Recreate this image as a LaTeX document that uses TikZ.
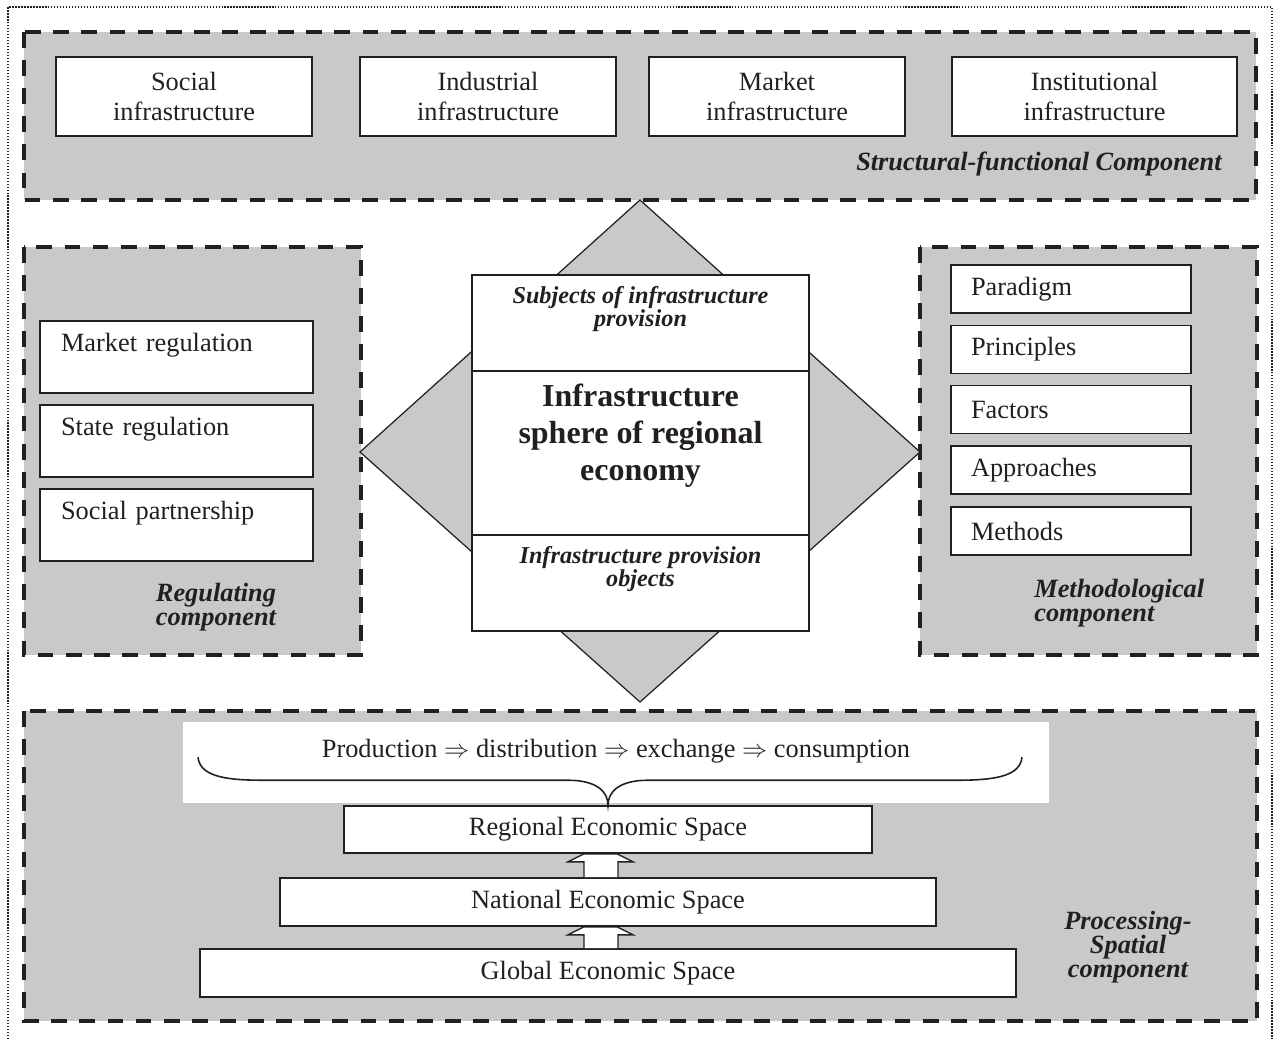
\documentclass[tikz,border=0pt]{standalone}
\usepackage{fontspec}
\setmainfont{Liberation Serif}
\usetikzlibrary{calc,positioning}
\definecolor{ink}{RGB}{35,31,32}
\definecolor{compgray}{RGB}{200,201,203}
\def\hollowup(#1)(#2){\draw[fill=white, draw=ink, line width=0.8pt] ($(#1.north)+(-24,0)$) -- ($(#2.south)+(-24,8)$) -- ($(#2.south)+(-40,8)$) -- ($(#2.south)+(-24,0)$) -- ($(#2.south)+(9,0)$) -- ($(#2.south)+(25,8)$) -- ($(#2.south)+(10,8)$) -- ($(#1.north)+(10,0)$);}

\begin{document}
\begin{tikzpicture}[x=0.02cm, y=-0.02cm,
	comp/.style={draw=ink, fill=compgray, line width=2.2pt, dash pattern=on 9pt off 7pt},
	box/.style={draw=ink, fill=white, line width=0.9pt, inner sep=0pt, text=ink, font=\fontsize{15}{17}\selectfont},
	topbox/.style={box, align=center, minimum width=5.12cm, minimum height=1.58cm},
	regbox/.style={box, align=left, text width=4.62cm, inner xsep=0.42cm, minimum height=1.44cm},
	methbox/.style={box, align=left, text width=4cm, inner xsep=0.4cm, minimum height=0.96cm},
	spacebox/.style={box, minimum height=0.96cm},
	section/.style={draw=ink, fill=white, line width=0.9pt, minimum width=6.74cm, inner sep=0pt},
	complabel/.style={text=ink, inner sep=0pt, font=\fontsize{15}{13.7}\selectfont\bfseries\itshape},
	sectlabel/.style={text=ink, inner sep=0pt, align=center, font=\fontsize{13.8}{13}\selectfont\bfseries\itshape}]
			%%%%% START %%%%%
			\useasboundingbox (0,0) rectangle (1274,1039);
			\draw[ink, line width=0.9pt, dash pattern=on 0.7pt off 1pt] (8,1039) -- (8,7) -- (1272,7) -- (1272,1039);
			
			% structural-functional component
			\draw[comp] (24,32) rectangle (1256,200);
			\node[topbox] (social) at (184,96.5) {Social\\infrastructure};
			\node[topbox] (industrial) at (488,96.5) {Industrial\\infrastructure};
			\node[topbox] (market) at (777,96.5) {Market\\infrastructure};
			\node[topbox, minimum width=5.7cm] (institutional) at (1094.5,96.5) {Institutional\\infrastructure};
			\node[complabel, anchor=east] (structlbl) at (1222,164) {Structural-functional Component};
			
			% regulating component
			\draw[comp] (24,247) rectangle (361,655);
			\node[regbox] (marketreg) at (176.5,357) {Market regulation\\\mbox{}};
			\node[regbox] (statereg) at (176.5,441) {State regulation\\\mbox{}};
			\node[regbox] (partner) at (176.5,525) {Social partnership\\\mbox{}};
			\node[complabel, align=center] (reglbl) at (216,607) {Regulating\\component};
			
			% methodological component
			\draw[comp] (920,247) rectangle (1257,655);
			\node[methbox] (paradigm) at (1071,289) {Paradigm};
			\node[methbox] (principles) at (1071,349.5) {Principles};
			\node[methbox] (factors) at (1071,409.5) {Factors};
			\node[methbox] (approaches) at (1071,470) {Approaches};
			\node[methbox] (methods) at (1071,531) {Methods};
			\node[complabel, align=left, anchor=west] (methlbl) at (1034,603) {Methodological\\component};
			
			% centre
			\draw[draw=ink, fill=compgray, line width=0.7pt] (640,200) -- (920,452) -- (640,702) -- (360,452) -- cycle;
			\node[section, minimum height=1.92cm] (subj) at (640.5,323) {};
			\node[section, minimum height=3.28cm] (core) at (640.5,453) {};
			\node[section, minimum height=1.92cm] (obj) at (640.5,583) {};
			\node[sectlabel] (subjlbl) at ($(subj.center)+(0,-14)$) {Subjects of infrastructure\\provision};
			\node[text=ink, inner sep=0pt, align=center, font=\fontsize{18.2}{21}\selectfont\bfseries] (corelbl) at ($(core.center)+(0,-17)$) {Infrastructure\\sphere of regional\\economy};
			\node[sectlabel] (objlbl) at ($(obj.center)+(0,-14)$) {Infrastructure provision\\objects};
			
			% processing-spatial component
			\draw[comp] (24,711) rectangle (1257,1021);
			\node[fill=white, minimum width=17.32cm, minimum height=1.62cm, inner sep=0pt] (flow) at (616,762.5) {};
			\node[text=ink, inner sep=0pt, font=\fontsize{15}{17}\selectfont] (flowlbl) at ($(flow.center)+(0,-11)$) {Production $\Rightarrow$ distribution $\Rightarrow$ exchange $\Rightarrow$ consumption};
			\node[spacebox, minimum width=10.56cm, minimum height=0.94cm] (regional) at (608,829.5) {Regional Economic Space};
			\node[spacebox, minimum width=13.12cm] (national) at (608,902) {National Economic Space};
			\node[spacebox, minimum width=16.32cm] (global) at (608,973) {Global Economic Space};
			\draw[ink, line width=0.9pt] ($(regional.north)+(-410,-48)$) .. controls +(2,18) and +(-40,0) .. ($(regional.north)+(-346,-25)$) -- ($(regional.north)+(-40,-25)$) .. controls +(28,0) and +(0,-14) .. (regional.north) .. controls +(0,-14) and +(-28,0) .. ($(regional.north)+(40,-25)$) -- ($(regional.north)+(350,-25)$) .. controls +(40,0) and +(-2,18) .. ($(regional.north)+(414,-48)$);
			\hollowup(national)(regional)
			\hollowup(global)(national)
			\node[complabel, align=center] (proclbl) at (1128,947) {Processing-\\Spatial\\component};
			%%%%% END %%%%%
\end{tikzpicture}
\end{document}
